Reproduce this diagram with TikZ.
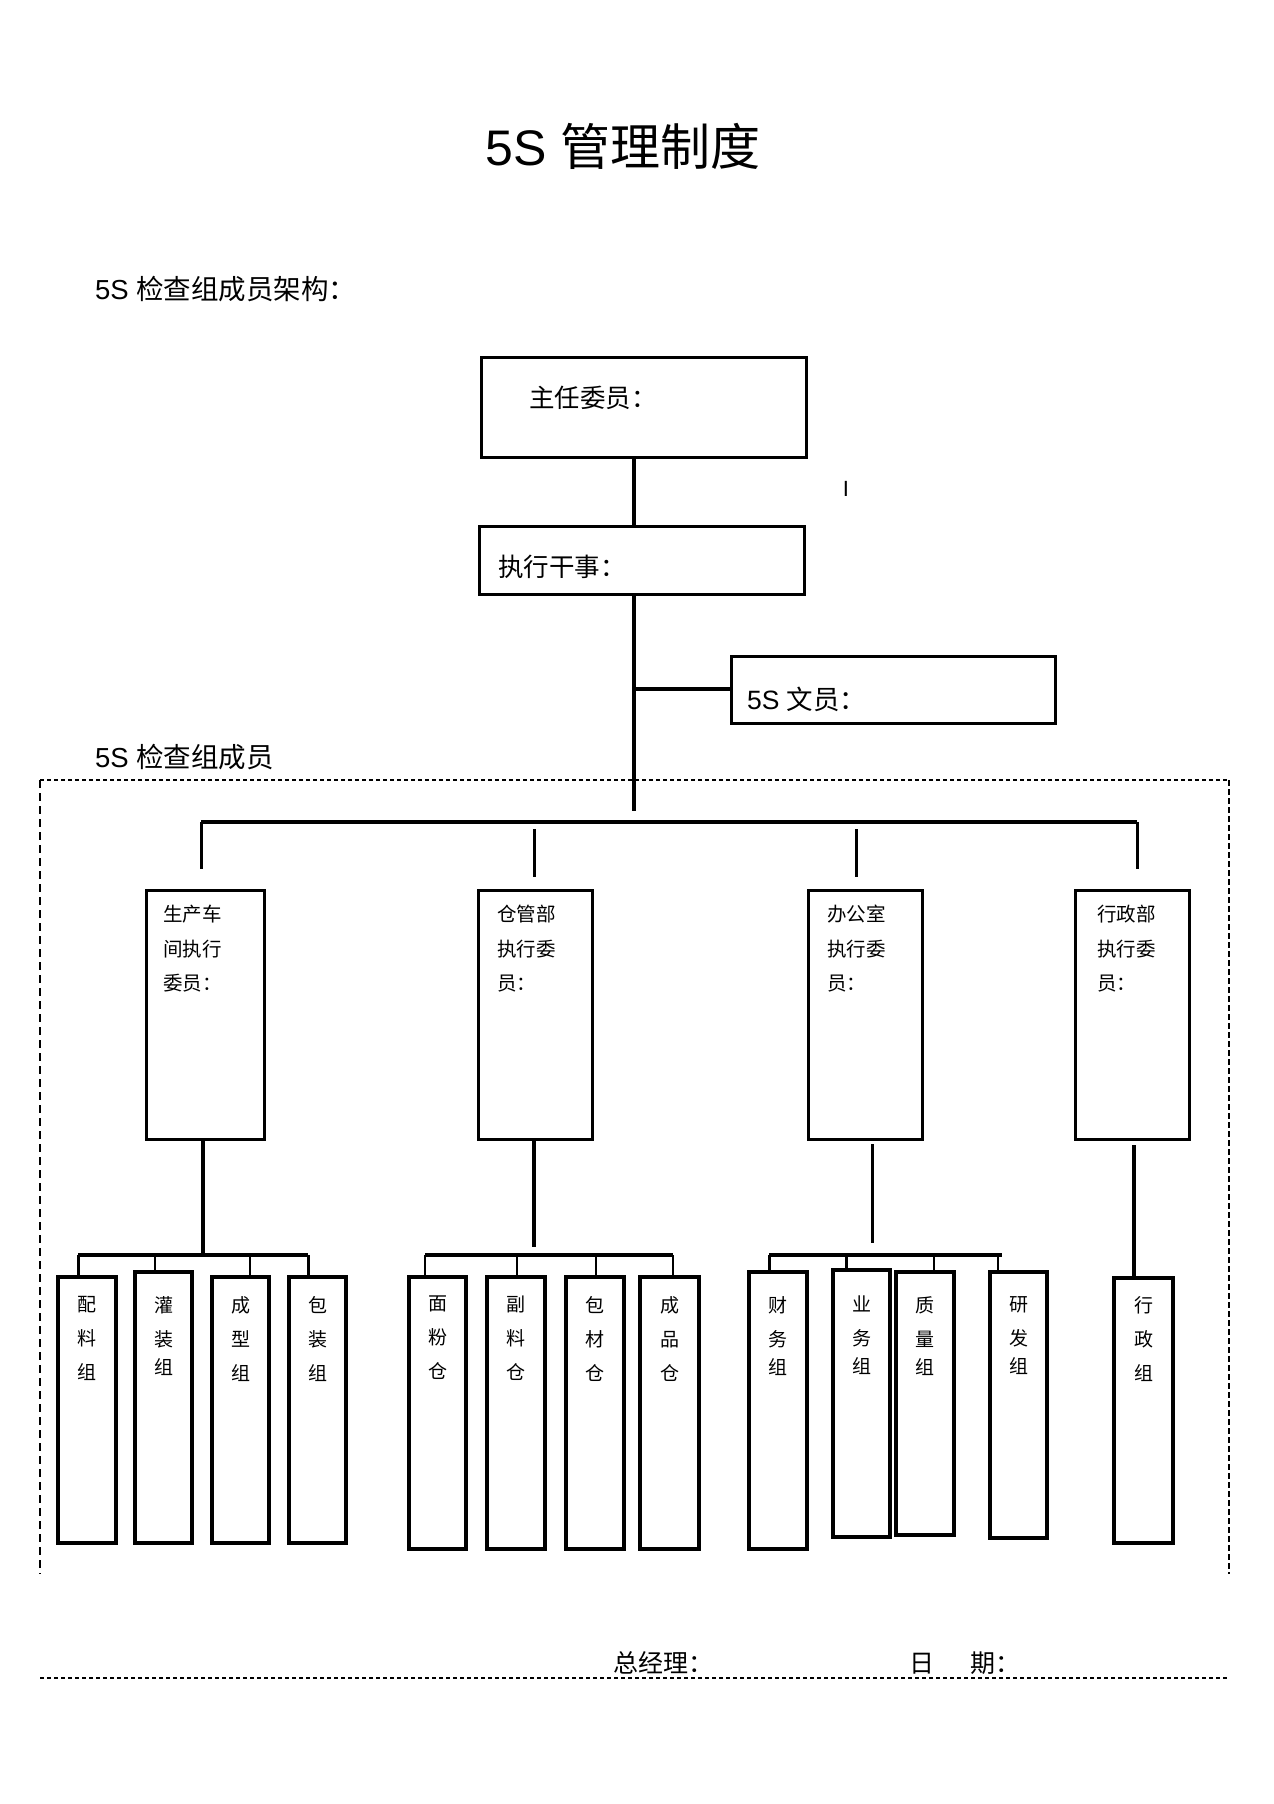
\documentclass[tikz,border=0pt]{standalone}
\usepackage{fontspec}
\setmainfont{Liberation Sans}
\newfontfamily\cjk{Noto Sans CJK SC}
\usetikzlibrary{fit}
\newcommand\lvthree[6]{%
  \node[bx3, fit={(#2,#3) (#4,#5)}] (#1) {};
  \node[vt] (#1t) at ({(#2+#4)/2},1296) {#6};
}
\begin{document}
\begin{tikzpicture}[x=1pt,y=-1pt,
  bx/.style={draw, line width=3pt, inner sep=0pt},
  bx3/.style={draw, line width=3.4pt, inner sep=0pt},
  lbl/.style={inner sep=0pt, anchor=west},
  vt/.style={inner sep=0pt, anchor=north, align=center, font={\cjk\fontsize{19}{34}\selectfont}},
  lt/.style={inner sep=0pt, anchor=north west, align=left, font={\cjk\fontsize{19.5}{34.5}\selectfont}},
  conn/.style={line width=4pt},
  mid/.style={line width=3pt},
  thinl/.style={line width=2pt},
  dtop/.style={line width=1.8pt, dash pattern=on 4pt off 3pt},
  dside/.style={line width=1.8pt, dash pattern=on 8pt off 5pt},
  dside2/.style={line width=2.2pt, dash pattern=on 6pt off 3pt},
  dbot/.style={line width=1.5pt, dash pattern=on 4pt off 3pt}]
\fill[white] (0,0) rectangle (1274,1804);
\useasboundingbox (0,0) rectangle (1274,1804);

% texts
\node[inner sep=0pt, font={\fontsize{50}{60}\selectfont}] (title) at (623,146) {5S {\cjk 管理制度}};
\node[lbl, font={\fontsize{27.5}{32}\selectfont}] (sub) at (95,289) {5S {\cjk 检查组成员架构：}};
\node[lbl, font={\fontsize{27.5}{32}\selectfont}] (grp) at (95,757) {5S {\cjk 检查组成员}};
\node[inner sep=0pt, font={\fontsize{22}{26}\selectfont}] (mark) at (846,489) {I};

% top boxes
\node[bx, fit={(481,357) (806,457)}] (zr) {};
\node[lbl, font={\cjk\fontsize{25.5}{30}\selectfont}] (zrt) at (529,398) {主任委员：};
\node[bx, fit={(479,526) (804,594)}] (zx) {};
\node[lbl, font={\cjk\fontsize{25.5}{30}\selectfont}] (zxt) at (498,567) {执行干事：};
\node[bx, fit={(731,656) (1055,723)}] (wy) {};
\node[lbl, font={\fontsize{26.5}{30}\selectfont}] (wyt) at (747,699) {5S {\cjk 文员：}};

% level 2 boxes
\node[bx, fit={(146,890) (264,1139)}] (sc) {};
\node[lt] (sct) at (163,905) {生产车\\间执行\\委员：};
\node[bx, fit={(478,890) (592,1139)}] (cg) {};
\node[lt] (cgt) at (497,905) {仓管部\\执行委\\员：};
\node[bx, fit={(808,890) (922,1139)}] (bg) {};
\node[lt] (bgt) at (827,905) {办公室\\执行委\\员：};
\node[bx, fit={(1075,890) (1189,1139)}] (xz) {};
\node[lt] (xzt) at (1097,905) {行政部\\执行委\\员：};

% level 3 boxes
\lvthree{pl}{58}{1277}{116}{1543}{配\\料\\组}
\lvthree{gz}{135}{1272}{192}{1543}{灌\\装\\[-6pt]组}
\lvthree{cx}{212}{1277}{269}{1543}{成\\型\\组}
\lvthree{bz}{289}{1277}{346}{1543}{包\\装\\组}
\lvthree{mf}{409}{1277}{466}{1549}{面\\粉\\仓}
\lvthree{fl}{487}{1277}{545}{1549}{副\\料\\仓}
\lvthree{bc}{566}{1277}{624}{1549}{包\\材\\仓}
\lvthree{cp}{640}{1277}{699}{1549}{成\\品\\仓}
\lvthree{cw}{749}{1272}{807}{1549}{财\\务\\[-6pt]组}
\lvthree{yw}{833}{1270}{890}{1537}{业\\务\\[-6pt]组}
\lvthree{zl}{896}{1272}{954}{1535}{质\\量\\[-6pt]组}
\lvthree{yf}{990}{1272}{1047}{1538}{研\\发\\[-6pt]组}
\lvthree{xzz}{1114}{1278}{1173}{1543}{行\\政\\组}

% bottom signature
\node[lbl, font={\cjk\fontsize{25}{30}\selectfont}] (gm) at (613,1663) {总经理：};
\node[lbl, font={\cjk\fontsize{25}{30}\selectfont}] (dt) at (909,1663) {日\hspace{36pt}期：};

% coordinates
\coordinate (xm) at (634,0);
\coordinate (busL) at (201,822);
\coordinate (busR) at (1137,822);

% main connectors
\draw[conn] (zr.south -| xm) -- (zx.north -| xm);
\draw[conn] (zx.south -| xm) -- (634,811);
\draw[conn] (634,689) -- (wy.west |- 0,689);
\draw[conn] (busL) -- (busR);
\draw[mid] (busL) -- (201,869);
\draw[mid] (busR) -- (1137,869);
\draw[mid] (534,829) -- (534,877);
\draw[mid] (856,829) -- (856,877);

% group 1
\draw[conn] (sc.south -| 203,0) -- (203,1255);
\draw[conn] (78,1255) -- (308,1255);
\draw[mid] (78,1255) -- (pl.north -| 78,0);
\draw[thinl] (155,1255) -- (gz.north -| 155,0);
\draw[thinl] (250,1255) -- (cx.north -| 250,0);
\draw[mid] (308,1255) -- (bz.north -| 308,0);
% group 2
\draw[conn] (cg.south -| 534,0) -- (534,1247);
\draw[conn] (425,1255) -- (673,1255);
\draw[thinl] (425,1255) -- (mf.north -| 425,0);
\draw[thinl] (517,1255) -- (fl.north -| 517,0);
\draw[thinl] (596,1255) -- (bc.north -| 596,0);
\draw[thinl] (673,1255) -- (cp.north -| 673,0);
% group 3
\draw[mid] (872,1144) -- (872,1243);
\draw[conn] (769,1255) -- (1002,1255);
\draw[mid] (769,1255) -- (cw.north -| 769,0);
\draw[mid] (846,1255) -- (yw.north -| 846,0);
\draw[thinl] (934,1255) -- (zl.north -| 934,0);
\draw[thinl] (998,1255) -- (yf.north -| 998,0);
% group 4
\draw[conn] (1134,1145) -- (xzz.north -| 1134,0);

% dashed frame
\draw[dtop] (40,780) -- (1229,780);
\draw[dside] (40,780) -- (40,1574);
\draw[dside2] (1229,780) -- (1229,1574);
\draw[dbot] (40,1678) -- (1229,1678);
\end{tikzpicture}
\end{document}
